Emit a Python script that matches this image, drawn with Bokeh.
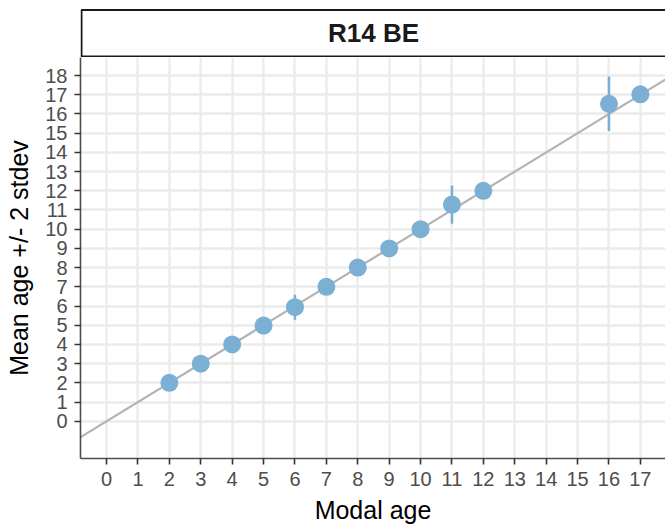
from bokeh.plotting import figure
from bokeh.models import Range1d, FixedTicker, Label, ColumnDataSource
from bokeh.layouts import column
from bokeh.embed import file_html
from bokeh.resources import INLINE

panel_title = "R14 BE"
modal_age = [2, 3, 4, 5, 6, 7, 8, 9, 10, 11, 12, 16, 17]
mean_age = [2.0, 3.0, 4.0, 4.98, 5.94, 7.0, 8.0, 9.0, 10.0, 11.28, 12.0, 16.53, 17.02]
two_sd = [0.0, 0.0, 0.0, 0.0, 0.65, 0.0, 0.0, 0.0, 0.0, 1.0, 0.0, 1.42, 0.0]
x_ticks = list(range(0, 18))
y_ticks = list(range(0, 19))
# identity reference line y = x (slope 1, intercept 0)
ref_intercept = 0.0
ref_slope = 1.0

FONT = "Liberation Sans"
W = 665

lo = [m - s for m, s in zip(mean_age, two_sd)]
hi = [m + s for m, s in zip(mean_age, two_sd)]
src = ColumnDataSource(dict(x=modal_age, y=mean_age, lo=lo, hi=hi))

x_lo, x_hi = -0.83, 17.8
y_lo, y_hi = -1.94, 18.94

# strip (facet header)
strip = figure(width=W, height=57, x_range=Range1d(0, 585), y_range=Range1d(0, 57),
               output_backend="svg", toolbar_location=None,
               min_border_left=80, min_border_right=0, min_border_top=0, min_border_bottom=0)
strip.axis.visible = False
strip.grid.visible = False
strip.outline_line_color = None
strip.background_fill_color = "white"
strip.border_fill_color = "white"
strip.quad(left=1, right=700, bottom=1, top=47.5, fill_color="white",
           line_color="#1a1a1a", line_width=2)
strip.add_layout(Label(x=293, y=24.5, text=panel_title, text_align="center",
                       text_baseline="middle", text_font=FONT,
                       text_font_style="bold", text_font_size="26px", text_color="#1a1a1a"))

p = figure(width=W, height=472, x_range=Range1d(x_lo, x_hi), y_range=Range1d(y_lo, y_hi),
           output_backend="svg", toolbar_location=None,
           min_border_left=80, min_border_right=0, min_border_top=0, min_border_bottom=71)
p.outline_line_color = None
p.background_fill_color = "white"

p.xaxis.ticker = FixedTicker(ticks=x_ticks)
p.yaxis.ticker = FixedTicker(ticks=y_ticks)
p.xgrid.ticker = FixedTicker(ticks=x_ticks)
p.ygrid.ticker = FixedTicker(ticks=y_ticks)
p.grid.grid_line_color = "#ebebeb"
p.grid.grid_line_width = 2.3

for ax in (p.xaxis, p.yaxis):
    ax.axis_line_color = "#4d4d4d"
    ax.axis_line_width = 1.6
    ax.major_tick_line_color = "#333333"
    ax.major_tick_line_width = 1.6
    ax.major_tick_out = 6
    ax.major_tick_in = 0
    ax.minor_tick_out = 0
    ax.minor_tick_in = 0
    ax.major_label_text_font = FONT
    ax.major_label_text_font_size = "20px"
    ax.major_label_text_color = "#4d4d4d"
    ax.major_label_standoff = 7
    ax.axis_label_text_font = FONT
    ax.axis_label_text_font_size = "25px"
    ax.axis_label_text_font_style = "normal"
    ax.axis_label_text_color = "black"

p.xaxis.axis_label = "Modal age"
p.yaxis.axis_label = "Mean age +/- 2 stdev"
p.xaxis.axis_label_standoff = 7
p.yaxis.axis_label_standoff = 9

# identity line spanning the full visible x range
line_x = [x_lo - 1, x_hi + 1]
line_y = [ref_intercept + ref_slope * v for v in line_x]
p.line(x=line_x, y=line_y, line_color="#b3b3b3", line_width=2.2)

p.segment(x0="x", y0="lo", x1="x", y1="hi", source=src, line_color="#7bafd4", line_width=2.5)
p.scatter(x="x", y="y", source=src, size=18, fill_color="#7bafd4", line_color=None)

layout = column(strip, p, spacing=0)
open("out.html", "w").write(file_html(layout, INLINE))
